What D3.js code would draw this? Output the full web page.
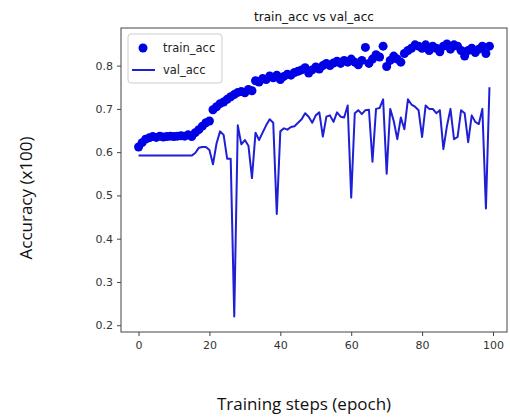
<!DOCTYPE html>
<html>
<head>
<meta charset="utf-8">
<script src="https://cdn.jsdelivr.net/npm/d3@7"></script>
<style>
  body { margin: 0; background: #fff; }
  svg { display: block; }
</style>
</head>
<body>
<svg id="chart" width="510" height="417"></svg>
<script>
// values, one per epoch (0..99)
var train_acc = [0.612,0.622,0.630,0.633,0.636,0.634,0.637,0.635,0.636,0.637,
  0.636,0.637,0.638,0.637,0.640,0.636,0.645,0.652,0.660,0.668,
  0.672,0.698,0.705,0.712,0.716,0.722,0.728,0.733,0.738,0.740,
  0.737,0.745,0.742,0.765,0.762,0.770,0.768,0.776,0.772,0.778,
  0.768,0.775,0.780,0.778,0.784,0.787,0.790,0.795,0.783,0.790,
  0.797,0.792,0.800,0.805,0.800,0.806,0.810,0.805,0.812,0.808,
  0.815,0.808,0.802,0.812,0.842,0.805,0.815,0.825,0.820,0.845,
  0.798,0.812,0.822,0.815,0.808,0.828,0.835,0.840,0.848,0.845,
  0.840,0.848,0.835,0.845,0.840,0.832,0.845,0.850,0.838,0.848,
  0.845,0.835,0.822,0.835,0.840,0.830,0.838,0.845,0.828,0.845];

var val_acc = [0.592,0.592,0.592,0.592,0.592,0.592,0.592,0.592,0.592,0.592,
  0.592,0.592,0.592,0.592,0.592,0.592,0.598,0.610,0.612,0.612,
  0.605,0.572,0.620,0.648,0.640,0.585,0.585,0.220,0.662,0.618,
  0.628,0.615,0.540,0.645,0.628,0.645,0.662,0.676,0.668,0.457,
  0.648,0.655,0.652,0.658,0.660,0.668,0.676,0.690,0.682,0.668,
  0.685,0.692,0.636,0.682,0.685,0.670,0.692,0.682,0.680,0.708,
  0.495,0.690,0.697,0.688,0.697,0.698,0.578,0.700,0.702,0.722,
  0.550,0.700,0.672,0.630,0.680,0.653,0.722,0.710,0.705,0.697,
  0.635,0.708,0.700,0.700,0.690,0.697,0.607,0.660,0.700,0.630,
  0.635,0.697,0.690,0.623,0.685,0.670,0.665,0.700,0.470,0.750];

var epochs = d3.range(train_acc.length);
var x_ticks = [0, 20, 40, 60, 80, 100];
var y_ticks = [0.2, 0.3, 0.4, 0.5, 0.6, 0.7, 0.8];
var legend_items = ["train_acc", "val_acc"];

var svg = d3.select("#chart");
var plot_left = 121, plot_right = 507, plot_top = 28, plot_bottom = 332;

var x = d3.scaleLinear().domain([-4.95, 103.95]).range([plot_left, plot_right]);
var y = d3.scaleLinear().domain([0.1844, 0.8869]).range([plot_bottom, plot_top]);

// frame
svg.append("rect")
  .attr("x", plot_left).attr("y", plot_top)
  .attr("width", plot_right - plot_left).attr("height", plot_bottom - plot_top)
  .attr("fill", "none").attr("stroke", "#444").attr("stroke-width", 1);

// axes
var xAxis = svg.append("g")
  .attr("transform", "translate(0," + plot_bottom + ")")
  .call(d3.axisBottom(x).tickValues(x_ticks).tickSize(4).tickPadding(5).tickFormat(d3.format("d")));
var yAxis = svg.append("g")
  .attr("transform", "translate(" + plot_left + ",0)")
  .call(d3.axisLeft(y).tickValues(y_ticks).tickSize(4).tickPadding(4).tickFormat(d3.format(".1f")));

[xAxis, yAxis].forEach(function(a) {
  a.select(".domain").remove();
  a.selectAll("line").attr("stroke", "#444");
  a.selectAll("text")
    .attr("fill", "#333")
    .style("font-family", "DejaVu Sans")
    .style("font-size", "11px");
});

// val line
var line = d3.line()
  .x(function(d, i) { return x(epochs[i]); })
  .y(function(d) { return y(d); });

svg.append("path")
  .datum(val_acc)
  .attr("d", line)
  .attr("fill", "none")
  .attr("stroke", "#1f1fd6")
  .attr("stroke-width", 2)
  .attr("stroke-linejoin", "round");

// train points
svg.append("g")
  .selectAll("circle")
  .data(train_acc)
  .enter()
  .append("circle")
  .attr("cx", function(d, i) { return x(epochs[i]); })
  .attr("cy", function(d) { return y(d); })
  .attr("r", 4.5)
  .attr("fill", "#0000e6");

// legend
var lg = svg.append("g");
lg.append("rect")
  .attr("x", 128).attr("y", 34).attr("width", 94).attr("height", 49)
  .attr("rx", 3)
  .attr("fill", "#fff").attr("fill-opacity", 0.85)
  .attr("stroke", "#ccc");
lg.append("circle").attr("cx", 143).attr("cy", 48).attr("r", 4.5).attr("fill", "#0000e6");
lg.append("line").attr("x1", 132).attr("x2", 155).attr("y1", 70).attr("y2", 70)
  .attr("stroke", "#1f1fd6").attr("stroke-width", 2);
lg.selectAll("text.leg")
  .data(legend_items)
  .enter()
  .append("text")
  .attr("class", "leg")
  .attr("x", 163)
  .attr("y", function(d, i) { return 52 + i * 22; })
  .attr("fill", "#222")
  .style("font-family", "DejaVu Sans")
  .style("font-size", "11.5px")
  .text(function(d) { return d; });

// title
svg.append("text")
  .attr("x", (plot_left + plot_right) / 2).attr("y", 21)
  .attr("text-anchor", "middle")
  .attr("fill", "#111")
  .style("font-family", "DejaVu Sans")
  .style("font-size", "12px")
  .text("train_acc vs val_acc");

// axis labels
svg.append("text")
  .attr("x", 304).attr("y", 410)
  .attr("text-anchor", "middle")
  .attr("fill", "#111")
  .style("font-family", "Open Sans")
  .style("font-size", "17px")
  .text("Training steps (epoch)");

svg.append("text")
  .attr("transform", "translate(32,198) rotate(-90)")
  .attr("text-anchor", "middle")
  .attr("fill", "#111")
  .style("font-family", "Open Sans")
  .style("font-size", "17px")
  .text("Accuracy (x100)");
</script>
</body>
</html>
